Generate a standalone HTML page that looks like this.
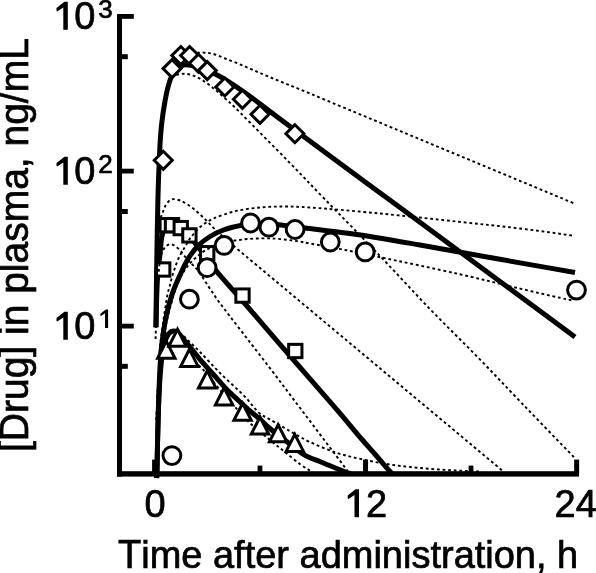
<!DOCTYPE html>
<html><head><meta charset="utf-8"><style>
html,body{margin:0;padding:0;background:#fff;}
svg{display:block;will-change:transform;}
text{font-family:"Liberation Sans",sans-serif;fill:#000;font-kerning:none;}
</style></head><body>
<svg width="596" height="573" viewBox="0 0 596 573">
<rect width="596" height="573" fill="#fff"/>
<defs><clipPath id="pc"><rect x="117" y="0" width="479" height="473"/><rect x="117" y="0" width="58" height="478.3"/></clipPath></defs>
<g clip-path="url(#pc)">
<path d="M155.90,327.30 C156.13,308.20 156.34,287.39 156.60,270.00 C156.82,255.47 157.07,242.38 157.30,230.00 C157.50,219.28 157.68,208.99 157.90,200.00 C158.08,192.66 158.27,186.67 158.50,180.00 C158.73,173.33 159.00,166.67 159.30,160.00 C159.60,153.33 159.86,146.41 160.30,140.00 C160.71,134.05 161.10,128.81 161.80,122.80 C162.58,116.14 163.76,108.15 164.90,101.80 C165.86,96.48 166.80,91.66 168.00,87.20 C169.04,83.33 170.02,79.61 171.50,76.50 C172.77,73.83 174.04,71.40 176.00,69.50 C178.01,67.55 180.81,65.66 183.50,65.00 C186.15,64.35 189.02,64.92 192.00,65.50 C195.47,66.17 199.10,67.73 203.00,69.20 C207.55,70.91 212.11,72.43 217.60,75.30 C225.46,79.41 235.85,86.47 245.00,92.80 C254.65,99.48 264.59,107.50 274.00,114.50 C282.89,121.11 289.93,126.26 300.00,133.70 C313.97,144.03 333.33,158.38 350.00,170.70 C366.66,183.01 383.33,195.30 400.00,207.60 C416.67,219.90 433.34,232.19 450.00,244.50 C466.67,256.82 481.65,267.92 500.00,281.50 C522.47,298.13 550.00,318.50 575.00,337.00" fill="none" stroke="#000" stroke-width="5.0" stroke-linejoin="round"/>
<path d="M156.60,478.30 C156.67,477.53 156.73,477.23 156.80,476.00 C157.06,471.16 157.32,451.45 157.60,440.00 C157.86,429.54 158.10,420.00 158.40,410.00 C158.70,400.00 158.93,390.00 159.40,380.00 C159.87,370.00 160.35,358.98 161.20,350.00 C161.90,342.65 162.84,336.18 163.80,330.00 C164.63,324.63 165.48,319.81 166.50,315.00 C167.46,310.50 168.46,306.31 169.70,302.00 C170.96,297.64 172.38,293.27 174.00,289.00 C175.62,284.73 177.32,280.91 179.40,276.40 C181.87,271.04 184.77,264.24 188.00,259.00 C190.96,254.20 194.07,249.78 197.80,246.00 C201.43,242.31 205.69,239.18 210.00,236.50 C214.23,233.87 218.50,231.82 223.40,230.00 C228.91,227.96 236.29,226.24 241.60,225.20 C245.64,224.41 248.13,224.01 252.40,223.80 C258.55,223.50 266.97,223.90 275.00,224.50 C284.24,225.19 293.76,226.69 304.70,228.00 C318.21,229.62 333.29,231.11 350.00,233.50 C370.83,236.47 395.90,240.87 420.00,245.00 C445.79,249.42 473.76,254.65 500.00,259.30 C525.40,263.81 550.00,268.10 575.00,272.50" fill="none" stroke="#000" stroke-width="5.0" stroke-linejoin="round"/>
<path d="M156.00,327.30 C156.20,318.20 156.34,308.39 156.60,300.00 C156.82,292.81 157.04,286.07 157.40,280.00 C157.70,274.92 158.07,270.01 158.50,266.00 C158.83,262.96 159.28,260.78 159.60,258.00 C159.95,255.00 160.14,251.96 160.50,248.60 C160.92,244.70 161.19,239.62 162.00,236.00 C162.64,233.14 163.43,230.54 164.50,228.50 C165.35,226.88 166.23,225.42 167.50,224.50 C168.74,223.61 170.28,222.87 172.00,223.00 C174.47,223.19 177.98,225.50 180.75,227.50 C183.82,229.72 186.48,232.73 189.40,236.00 C192.88,239.89 196.84,245.45 200.00,249.50 C202.58,252.80 204.54,255.26 207.00,258.50 C209.83,262.22 212.93,266.76 216.00,270.60 C218.94,274.28 221.23,276.76 225.00,281.10 C231.23,288.27 241.32,299.52 250.00,309.50 C259.58,320.51 269.98,332.83 280.00,344.40 C289.98,355.93 300.00,367.32 310.00,378.80 C320.00,390.29 330.82,402.55 340.00,413.30 C347.94,422.60 355.49,431.94 362.00,439.50 C367.06,445.38 371.14,449.78 375.70,455.00 C380.31,460.28 386.14,467.19 389.50,471.00 C391.40,473.15 392.57,474.31 394.00,476.00 C395.40,477.65 396.67,479.33 398.00,481.00" fill="none" stroke="#000" stroke-width="5.0" stroke-linejoin="round"/>
<path d="M156.60,478.30 C156.67,477.53 156.73,477.23 156.80,476.00 C157.06,471.16 157.30,451.92 157.60,440.00 C157.90,428.25 158.14,416.21 158.60,405.00 C159.03,394.61 159.51,383.98 160.20,375.00 C160.76,367.65 161.36,360.80 162.20,355.00 C162.86,350.48 163.54,346.36 164.50,343.00 C165.22,340.47 165.98,338.35 167.00,336.50 C167.87,334.94 168.82,333.43 170.00,332.50 C171.03,331.69 172.32,331.07 173.50,331.00 C174.65,330.93 175.70,331.19 177.00,332.00 C179.50,333.56 182.73,338.16 186.00,342.00 C190.19,346.93 195.19,353.73 199.90,359.30 C204.49,364.72 209.24,369.79 213.90,375.00 C218.54,380.19 223.32,385.92 227.80,390.50 C231.65,394.43 235.57,397.83 239.00,401.00 C241.88,403.66 243.99,405.63 247.00,408.30 C250.79,411.66 255.97,415.95 260.00,419.50 C263.57,422.64 266.21,425.32 270.00,428.50 C274.65,432.40 280.54,436.78 286.00,441.00 C291.67,445.38 297.43,450.76 303.40,454.30 C308.89,457.55 314.85,459.48 320.30,461.80 C325.35,463.95 330.24,465.91 335.00,467.80 C339.46,469.57 343.73,471.32 348.00,472.80 C352.06,474.20 356.00,475.30 360.00,476.50 C364.00,477.70 368.00,478.83 372.00,480.00" fill="none" stroke="#000" stroke-width="5.0" stroke-linejoin="round"/>
</g>
<rect x="156.55" y="262.85" width="13.3" height="13.3" fill="#fff" stroke="#000" stroke-width="3.0"/>
<rect x="160.10" y="218.55" width="13.3" height="13.3" fill="#fff" stroke="#000" stroke-width="3.0"/>
<rect x="165.35" y="218.55" width="13.3" height="13.3" fill="#fff" stroke="#000" stroke-width="3.0"/>
<rect x="174.10" y="221.45" width="13.3" height="13.3" fill="#fff" stroke="#000" stroke-width="3.0"/>
<rect x="182.75" y="228.75" width="13.3" height="13.3" fill="#fff" stroke="#000" stroke-width="3.0"/>
<rect x="200.55" y="246.55" width="13.3" height="13.3" fill="#fff" stroke="#000" stroke-width="3.0"/>
<rect x="235.85" y="288.95" width="13.3" height="13.3" fill="#fff" stroke="#000" stroke-width="3.0"/>
<rect x="288.65" y="344.35" width="13.3" height="13.3" fill="#fff" stroke="#000" stroke-width="3.0"/>
<g clip-path="url(#pc)">
<path d="M197.00,52.80 C199.67,52.77 202.43,52.55 205.00,52.70 C207.42,52.84 209.34,52.95 212.00,53.60 C215.77,54.52 220.43,56.62 225.30,58.50 C231.33,60.82 238.83,63.84 245.40,66.60 C251.79,69.28 258.00,72.18 264.20,74.80 C270.20,77.34 276.05,79.67 282.00,82.10 C287.98,84.54 292.38,86.27 300.00,89.40 C313.34,94.88 336.61,104.63 354.92,112.24 C373.23,119.85 391.53,127.47 409.84,135.08 C428.15,142.69 446.45,150.31 464.76,157.92 C483.07,165.53 501.37,173.15 519.68,180.76 C537.99,188.37 556.29,195.99 574.60,203.60" fill="none" stroke="#000" stroke-width="1.9" stroke-dasharray="2.8 2.8"/>
<path d="M171.00,77.00 C173.33,76.17 175.63,75.05 178.00,74.50 C180.30,73.96 182.76,73.62 185.00,73.70 C187.08,73.77 189.08,74.27 191.00,74.80 C192.85,75.31 194.60,76.02 196.30,76.80 C197.97,77.56 199.52,78.46 201.10,79.40 C202.72,80.36 204.32,81.41 205.90,82.50 C207.52,83.61 209.15,84.82 210.70,86.00 C212.21,87.15 213.65,88.28 215.10,89.50 C216.58,90.75 217.80,91.89 219.50,93.40 C221.83,95.47 225.49,98.72 227.80,100.80 C229.47,102.30 230.17,102.86 232.10,104.70 C236.37,108.77 244.54,117.08 252.20,124.80 C262.52,135.19 276.37,149.18 288.40,161.50 C300.48,173.88 311.16,185.13 324.50,198.90 C341.01,215.94 361.97,237.16 380.00,256.00 C397.41,274.18 414.07,292.60 430.90,310.00 C447.03,326.68 463.46,342.56 478.90,358.40 C493.54,373.43 506.35,387.15 521.30,402.70 C537.99,420.06 556.70,439.37 574.40,457.70" fill="none" stroke="#000" stroke-width="1.9" stroke-dasharray="2.8 2.8"/>
<path d="M156.20,420.00 C156.53,413.33 156.85,406.67 157.20,400.00 C157.55,393.33 157.91,387.34 158.30,380.00 C158.77,371.01 159.08,358.98 159.80,350.00 C160.39,342.65 161.21,336.18 162.00,330.00 C162.69,324.63 163.48,319.82 164.20,315.00 C164.87,310.51 165.56,305.88 166.20,302.00 C166.72,298.84 167.09,296.08 167.70,293.40 C168.25,290.99 168.98,288.93 169.60,286.60 C170.25,284.14 170.76,281.67 171.50,279.00 C172.33,275.98 173.24,272.79 174.40,269.40 C175.74,265.48 177.31,260.85 179.20,256.90 C181.03,253.07 183.58,249.28 185.50,246.00 C187.09,243.29 188.37,240.80 189.90,238.60 C191.25,236.66 192.45,235.24 194.10,233.40 C196.15,231.10 198.55,228.28 201.40,226.00 C204.61,223.43 208.08,221.16 212.60,219.00 C218.65,216.11 227.22,213.21 235.00,211.30 C243.07,209.32 251.79,208.30 260.20,207.50 C268.55,206.71 276.97,206.50 285.30,206.50 C293.57,206.50 299.68,206.85 310.00,207.50 C327.40,208.60 355.90,211.20 380.00,213.50 C405.79,215.96 435.25,219.24 460.00,221.90 C481.44,224.20 500.49,226.12 520.00,228.50 C538.64,230.77 556.40,233.37 574.60,235.80" fill="none" stroke="#000" stroke-width="1.9" stroke-dasharray="2.8 2.8"/>
<path d="M157.80,420.00 C158.27,410.00 158.70,400.00 159.20,390.00 C159.70,380.00 160.11,368.28 160.80,360.00 C161.29,354.13 161.86,349.82 162.50,345.00 C163.10,340.51 163.73,336.24 164.50,332.00 C165.24,327.91 166.13,323.81 167.00,320.00 C167.80,316.51 168.69,313.03 169.50,310.00 C170.18,307.45 170.86,305.39 171.50,303.00 C172.17,300.50 172.64,297.93 173.40,295.30 C174.22,292.47 175.27,289.29 176.30,286.60 C177.22,284.20 178.04,282.24 179.20,279.90 C180.54,277.18 182.32,273.94 184.00,271.30 C185.53,268.88 187.04,266.69 188.80,264.60 C190.55,262.52 192.38,260.74 194.50,258.80 C196.89,256.61 199.82,254.06 202.50,252.20 C204.92,250.52 207.28,249.37 209.80,248.00 C212.44,246.57 215.23,244.90 218.00,243.80 C220.63,242.76 223.23,242.05 226.00,241.50 C228.89,240.93 231.75,240.87 235.00,240.50 C238.85,240.06 242.67,239.34 247.60,239.00 C254.53,238.52 264.34,238.12 272.70,238.50 C281.10,238.88 291.04,240.30 297.90,241.30 C302.68,242.00 305.07,242.60 310.00,243.50 C317.77,244.92 329.41,246.95 340.00,249.00 C351.98,251.32 363.08,253.64 378.20,256.80 C400.35,261.43 434.87,268.62 460.00,274.30 C481.58,279.18 502.01,284.39 520.00,288.60 C534.67,292.04 550.43,295.67 560.00,297.80 C565.34,298.99 568.33,299.60 572.50,300.50" fill="none" stroke="#000" stroke-width="1.9" stroke-dasharray="2.8 2.8"/>
<path d="M157.30,240.00 C157.70,236.00 157.92,231.75 158.50,228.00 C159.02,224.63 159.68,221.34 160.50,218.50 C161.19,216.10 162.12,214.07 162.90,212.00 C163.62,210.09 164.08,208.24 165.00,206.50 C165.94,204.73 167.14,202.75 168.50,201.50 C169.68,200.42 170.90,199.48 172.50,199.20 C174.56,198.84 177.41,199.58 180.00,200.50 C183.16,201.62 186.76,203.86 189.90,206.00 C193.10,208.18 196.08,210.89 199.00,213.50 C201.91,216.09 204.75,218.98 207.40,221.60 C209.83,224.00 211.72,226.10 214.30,228.60 C217.45,231.65 221.33,235.25 225.00,238.50 C228.73,241.81 231.40,244.00 236.50,248.30 C246.50,256.74 266.22,273.16 281.08,285.58 C295.94,298.01 310.81,310.44 325.67,322.87 C340.53,335.29 355.39,347.72 370.25,360.15 C385.11,372.58 399.97,385.01 414.83,397.43 C429.69,409.86 444.56,422.29 459.42,434.72 C474.28,447.14 489.14,459.57 504.00,472.00" fill="none" stroke="#000" stroke-width="1.9" stroke-dasharray="2.8 2.8"/>
<path d="M155.60,339.00 C155.77,333.33 155.82,328.03 156.10,322.00 C156.42,315.14 157.11,307.57 157.50,300.00 C157.92,291.94 158.01,281.98 158.50,275.00 C158.85,269.96 159.21,265.80 159.80,262.00 C160.27,259.00 160.73,256.32 161.50,254.00 C162.13,252.10 162.86,250.46 163.80,249.00 C164.66,247.66 165.62,246.30 166.80,245.50 C167.91,244.75 169.29,244.16 170.60,244.20 C172.02,244.24 173.52,245.10 175.00,246.00 C176.84,247.13 179.01,249.12 180.60,250.80 C182.02,252.30 182.83,253.83 184.20,255.50 C185.85,257.52 187.82,259.71 189.90,262.00 C192.32,264.66 195.17,267.06 197.90,270.50 C201.46,275.00 205.39,281.87 208.90,287.10 C212.06,291.82 214.69,295.89 218.00,300.50 C221.67,305.62 225.47,310.47 230.00,316.40 C235.80,324.00 243.18,333.47 250.00,342.30 C257.14,351.55 264.90,361.52 271.90,370.70 C278.44,379.27 284.47,387.33 290.75,395.65 C297.03,403.97 303.32,412.28 309.60,420.60 C315.88,428.92 322.17,437.23 328.45,445.55 C334.73,453.87 341.02,462.18 347.30,470.50" fill="none" stroke="#000" stroke-width="1.9" stroke-dasharray="2.8 2.8"/>
<path d="M160.00,345.00 C161.67,341.67 162.80,337.57 165.00,335.00 C166.93,332.75 169.50,330.33 172.00,330.00 C174.50,329.67 177.43,331.42 180.00,333.00 C183.03,334.86 185.63,338.10 188.70,341.00 C192.24,344.35 195.75,347.70 200.00,352.00 C205.77,357.83 212.87,365.87 220.00,373.00 C227.78,380.78 237.95,389.46 245.00,396.80 C250.61,402.64 254.66,409.26 259.40,413.20 C262.97,416.16 266.20,417.26 270.00,419.50 C274.38,422.08 279.79,425.24 284.20,427.80 C288.04,430.03 291.13,431.85 295.00,434.00 C299.42,436.46 303.66,439.05 309.30,441.70 C316.98,445.31 328.06,450.01 337.20,453.00 C345.64,455.76 353.53,457.42 362.10,459.30 C371.11,461.28 380.51,463.06 390.00,464.50 C399.79,465.98 409.99,467.05 420.00,468.00 C429.99,468.95 440.00,469.62 450.00,470.20 C460.00,470.78 470.00,471.07 480.00,471.50" fill="none" stroke="#000" stroke-width="1.9" stroke-dasharray="2.8 2.8"/>
<path d="M190.00,358.00 C194.00,361.50 198.40,364.87 202.00,368.50 C205.35,371.88 208.03,375.48 211.00,379.00 C213.96,382.51 216.44,385.65 219.80,389.60 C224.15,394.71 229.84,401.31 235.00,407.00 C240.14,412.67 245.01,418.30 250.70,423.70 C256.72,429.42 264.16,435.24 270.30,440.30 C275.63,444.69 280.37,448.37 285.40,452.40 C290.43,456.43 296.03,461.25 300.50,464.50 C303.85,466.94 306.67,468.40 309.60,470.50 C312.50,472.57 315.20,474.83 318.00,477.00" fill="none" stroke="#000" stroke-width="1.9" stroke-dasharray="2.8 2.8"/>
</g>
<circle cx="171.90" cy="455.60" r="8.9" fill="#fff" stroke="#000" stroke-width="3.0"/>
<circle cx="189.40" cy="299.20" r="8.9" fill="#fff" stroke="#000" stroke-width="3.0"/>
<circle cx="207.10" cy="267.70" r="8.9" fill="#fff" stroke="#000" stroke-width="3.0"/>
<circle cx="224.10" cy="245.40" r="8.9" fill="#fff" stroke="#000" stroke-width="3.0"/>
<circle cx="250.50" cy="223.00" r="8.9" fill="#fff" stroke="#000" stroke-width="3.0"/>
<circle cx="268.90" cy="227.20" r="8.9" fill="#fff" stroke="#000" stroke-width="3.0"/>
<circle cx="295.10" cy="229.50" r="8.9" fill="#fff" stroke="#000" stroke-width="3.0"/>
<circle cx="330.30" cy="242.00" r="8.9" fill="#fff" stroke="#000" stroke-width="3.0"/>
<circle cx="365.20" cy="251.90" r="8.9" fill="#fff" stroke="#000" stroke-width="3.0"/>
<circle cx="576.50" cy="290.10" r="8.9" fill="#fff" stroke="#000" stroke-width="3.0"/>
<path d="M166.30,341.20 L175.00,358.20 L157.60,358.20Z" fill="#fff" stroke="#000" stroke-width="3.0" stroke-linejoin="miter"/>
<path d="M177.50,329.20 L186.20,346.20 L168.80,346.20Z" fill="#fff" stroke="#000" stroke-width="3.0" stroke-linejoin="miter"/>
<path d="M189.40,349.40 L198.10,366.40 L180.70,366.40Z" fill="#fff" stroke="#000" stroke-width="3.0" stroke-linejoin="miter"/>
<path d="M207.20,370.90 L215.90,387.90 L198.50,387.90Z" fill="#fff" stroke="#000" stroke-width="3.0" stroke-linejoin="miter"/>
<path d="M224.10,387.90 L232.80,404.90 L215.40,404.90Z" fill="#fff" stroke="#000" stroke-width="3.0" stroke-linejoin="miter"/>
<path d="M242.60,403.30 L251.30,420.30 L233.90,420.30Z" fill="#fff" stroke="#000" stroke-width="3.0" stroke-linejoin="miter"/>
<path d="M260.00,417.00 L268.70,434.00 L251.30,434.00Z" fill="#fff" stroke="#000" stroke-width="3.0" stroke-linejoin="miter"/>
<path d="M278.10,424.80 L286.80,441.80 L269.40,441.80Z" fill="#fff" stroke="#000" stroke-width="3.0" stroke-linejoin="miter"/>
<path d="M294.80,434.40 L303.50,451.40 L286.10,451.40Z" fill="#fff" stroke="#000" stroke-width="3.0" stroke-linejoin="miter"/>
<path d="M163.25,151.30 L172.25,160.30 L163.25,169.30 L154.25,160.30Z" fill="#fff" stroke="#000" stroke-width="3.0"/>
<path d="M172.04,59.60 L181.04,68.60 L172.04,77.60 L163.04,68.60Z" fill="#fff" stroke="#000" stroke-width="3.0"/>
<path d="M180.84,46.50 L189.84,55.50 L180.84,64.50 L171.84,55.50Z" fill="#fff" stroke="#000" stroke-width="3.0"/>
<path d="M189.63,46.50 L198.63,55.50 L189.63,64.50 L180.63,55.50Z" fill="#fff" stroke="#000" stroke-width="3.0"/>
<path d="M198.43,54.20 L207.43,63.20 L198.43,72.20 L189.43,63.20Z" fill="#fff" stroke="#000" stroke-width="3.0"/>
<path d="M207.23,61.60 L216.23,70.60 L207.23,79.60 L198.23,70.60Z" fill="#fff" stroke="#000" stroke-width="3.0"/>
<path d="M224.82,78.00 L233.82,87.00 L224.82,96.00 L215.82,87.00Z" fill="#fff" stroke="#000" stroke-width="3.0"/>
<path d="M242.41,90.30 L251.41,99.30 L242.41,108.30 L233.41,99.30Z" fill="#fff" stroke="#000" stroke-width="3.0"/>
<path d="M260.00,105.30 L269.00,114.30 L260.00,123.30 L251.00,114.30Z" fill="#fff" stroke="#000" stroke-width="3.0"/>
<path d="M294.90,124.70 L303.90,133.70 L294.90,142.70 L285.90,133.70Z" fill="#fff" stroke="#000" stroke-width="3.0"/>
<rect x="117" y="14" width="5" height="462.5" fill="#000"/>
<rect x="117" y="471.2" width="462" height="5.4" fill="#000"/>
<rect x="117" y="14.00" width="16.8" height="4.8" fill="#000"/>
<rect x="117" y="168.70" width="16.8" height="4.8" fill="#000"/>
<rect x="117" y="323.70" width="16.8" height="4.8" fill="#000"/>
<rect x="117" y="54.20" width="10.8" height="5" fill="#000"/>
<rect x="117" y="209.00" width="10.8" height="5" fill="#000"/>
<rect x="117" y="363.80" width="10.8" height="5" fill="#000"/>
<rect x="257.55" y="465.6" width="4.8" height="8" fill="#000"/>
<rect x="468.60" y="465.6" width="4.8" height="8" fill="#000"/>
<rect x="152.10" y="459.6" width="5" height="14" fill="#000"/>
<rect x="363.05" y="459.6" width="5" height="14" fill="#000"/>
<rect x="574.15" y="459.6" width="5" height="14" fill="#000"/>
<path d="M67.80,29.70 L63.30,29.70 L63.30,7.40 L57.20,11.50 L56.50,11.10 L56.50,8.10 L64.40,1.80 L67.80,1.80 Z" fill="#000"/>
<text transform="translate(74.30,29.40) scale(1,1.02)" font-size="38" stroke="#000" stroke-width="0.7" >0</text>
<text transform="translate(98.30,18.10) scale(1,1.0)" font-size="26" stroke="#000" stroke-width="0.7" >3</text>
<path d="M67.80,184.70 L63.30,184.70 L63.30,162.40 L57.20,166.50 L56.50,166.10 L56.50,163.10 L64.40,156.80 L67.80,156.80 Z" fill="#000"/>
<text transform="translate(74.30,184.40) scale(1,1.02)" font-size="38" stroke="#000" stroke-width="0.7" >0</text>
<text transform="translate(98.30,173.10) scale(1,1.0)" font-size="26" stroke="#000" stroke-width="0.7" >2</text>
<path d="M67.80,339.70 L63.30,339.70 L63.30,317.40 L57.20,321.50 L56.50,321.10 L56.50,318.10 L64.40,311.80 L67.80,311.80 Z" fill="#000"/>
<text transform="translate(74.30,339.40) scale(1,1.02)" font-size="38" stroke="#000" stroke-width="0.7" >0</text>
<path d="M108.10,328.10 L105.04,328.10 L105.04,313.31 L100.89,316.10 L100.42,315.82 L100.42,313.78 L105.79,309.50 L108.10,309.50 Z" fill="#000"/>
<text transform="translate(144.40,517.00) scale(1,1.045)" font-size="38" stroke="#000" stroke-width="0.7" >0</text>
<path d="M359.00,517.20 L354.50,517.20 L354.50,494.90 L348.40,499.00 L347.70,498.60 L347.70,495.60 L355.60,489.30 L359.00,489.30 Z" fill="#000"/>
<text transform="translate(366.00,517.00) scale(1,1.045)" font-size="38" stroke="#000" stroke-width="0.7" >2</text>
<text transform="translate(554.50,517.00) scale(1,1.045)" font-size="38" stroke="#000" stroke-width="0.7" >24</text>
<text transform="translate(118.00,567.70) scale(1,1.07)" font-size="38" stroke="#000" stroke-width="0.7" >T</text>
<text transform="translate(141.21,567.70) scale(1,1.035)" font-size="38" stroke="#000" stroke-width="0.7" >ime after administration, h</text>
<text transform="translate(28,452.000) rotate(-90) scale(1,1.02)" font-size="39" stroke="#000" stroke-width="0.7">[</text>
<text transform="translate(28,441.165) rotate(-90) scale(1,1.05)" font-size="39" stroke="#000" stroke-width="0.7">D</text>
<text transform="translate(28,413.000) rotate(-90) scale(1,1.02)" font-size="39" stroke="#000" stroke-width="0.7">rug] in plasma, ng/m</text>
<text transform="translate(28,59.677) rotate(-90) scale(1,1.05)" font-size="39" stroke="#000" stroke-width="0.7">L</text>
</svg>
</body></html>
